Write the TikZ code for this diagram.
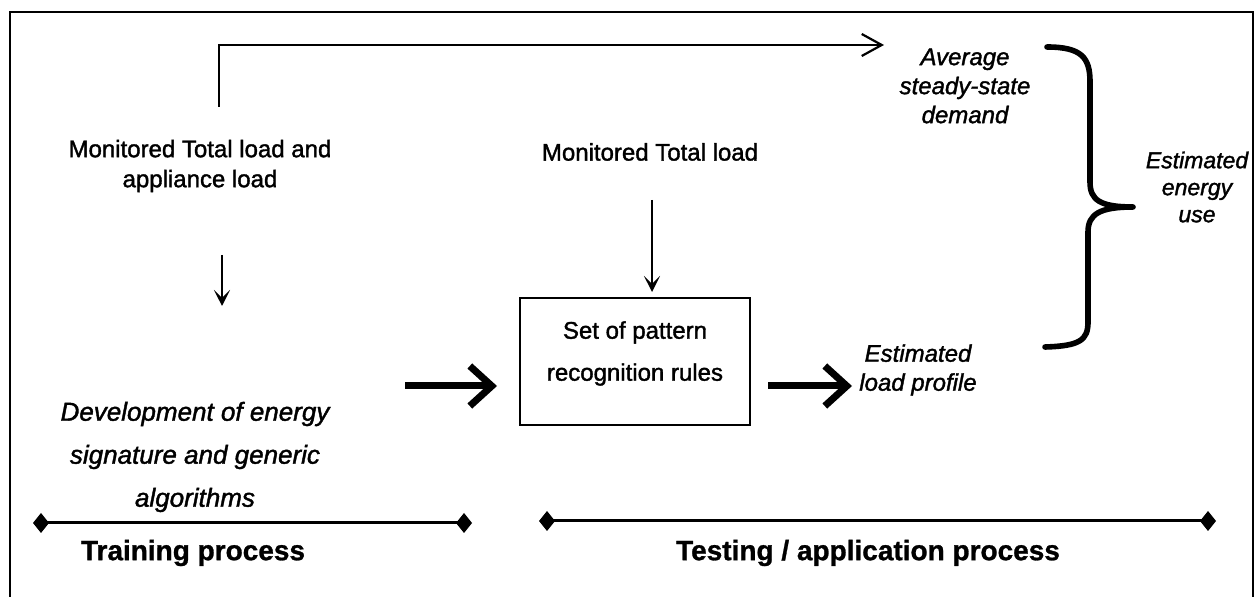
\documentclass[tikz,border=0pt]{standalone}
\usepackage{fontspec}
\setmainfont{Liberation Sans}[
  UprightFeatures={FakeBold=1.5},
  ItalicFeatures={FakeBold=1.5},
  BoldFeatures={FakeBold=1}]
\usetikzlibrary{arrows.meta}

\begin{document}
\begin{tikzpicture}[x=0.5pt,y=-0.5pt,
  txt/.style={align=center,inner sep=0pt,font=\fontsize{12}{15}\selectfont},
  itxt/.style={align=center,inner sep=0pt,font=\fontsize{12}{14.5}\selectfont\itshape},
  usetxt/.style={align=center,inner sep=0pt,font=\fontsize{11.5}{13.5}\selectfont\itshape},
  devtxt/.style={align=center,inner sep=0pt,font=\fontsize{13}{21.5}\selectfont\itshape},
  headtxt/.style={inner sep=0pt,font=\fontsize{14}{16}\selectfont\bfseries},
  rulebox/.style={draw,line width=1pt,minimum width=115pt,minimum height=63.5pt,inner sep=0pt},
  boxtxt/.style={align=center,inner sep=0pt,font=\fontsize{12}{21}\selectfont},
  thinarrow/.style={line width=1.1pt,-{Stealth[length=8pt,width=8pt,inset=4pt]}},
  longarrow/.style={line width=1.1pt,-{Straight Barb[length=10pt,width=11pt]}},
  fatarrow/.style={line width=3.5pt,-{Straight Barb[length=11pt,width=20pt]}},
  span/.style={line width=1.5pt,{Diamond[length=8pt,width=10pt]}-{Diamond[length=8pt,width=10pt]}},
  bracket/.style={line width=2.8pt,line cap=round,line join=round}]
\useasboundingbox (0,0) rectangle (1257,597);

% outer frame
\draw[line width=1pt] (10,640) -- (10,12) -- (1253,12) -- (1253,640);

% text blocks
\node[txt] (mon1) at (200,166) {Monitored Total load and\\appliance load};
\node[txt] (mon2) at (650,152) {Monitored Total load};
\node[devtxt] (dev) at (195,457) {Development of energy\\signature and generic\\algorithms};
\node[rulebox] (rules) at (635,361.5) {};
\node[boxtxt] (rulestxt) at ([yshift=4pt]rules.center) {Set of pattern\\recognition rules};
\node[itxt] (prof) at (918,370) {Estimated\\load profile};
\node[itxt] (avg) at (965,86) {Average\\steady-state\\demand};
\node[usetxt] (use) at (1197,187) {Estimated\\energy\\use};
\node[headtxt] (train) at (193,553) {Training process};
\node[headtxt] (test) at (868,553) {Testing / application process};

% connector end points
\coordinate (topA) at (219,107);
\coordinate (topB) at (884,45);
\coordinate (d1A) at (222,255);
\coordinate (d1B) at (222,306);
\coordinate (d2A) at (652,200);
\coordinate (d2B) at (652,292);
\coordinate (f1A) at (405,386);
\coordinate (f1B) at (497,386);
\coordinate (f2A) at (768,386);
\coordinate (f2B) at (852,386);
\coordinate (trL) at (33,523);
\coordinate (trR) at (472,523);
\coordinate (teL) at (539,521);
\coordinate (teR) at (1216,521);

% connectors
\draw[longarrow] (topA) |- (topB);
\draw[thinarrow] (d1A) -- (d1B);
\draw[thinarrow] (d2A) -- (d2B);
\draw[fatarrow] (f1A) -- (f1B);
\draw[fatarrow] (f2A) -- (f2B);
\draw[span] (trL) -- (trR);
\draw[span] (teL) -- (teR);

% curly bracket joining the two estimates
\draw[bracket] (1047,47) .. controls (1082,47) and (1090,58) .. (1090,82)
  -- (1090,182) .. controls (1090,200) and (1100,207) .. (1133,207)
  .. controls (1100,207) and (1088,214) .. (1088,232)
  -- (1088,322) .. controls (1088,340) and (1080,346) .. (1045,347);
\end{tikzpicture}
\end{document}
